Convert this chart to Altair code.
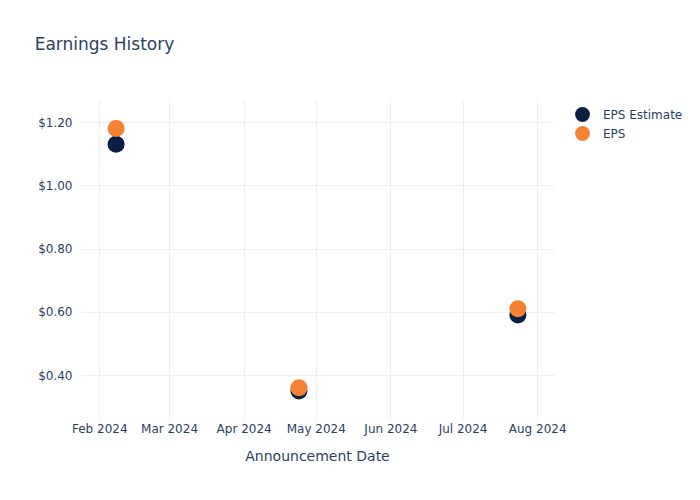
import altair as alt
import pandas as pd

dates = ["2024-02-08", "2024-04-24", "2024-07-24"]
eps_estimate = [1.13, 0.35, 0.59]
eps_actual = [1.18, 0.36, 0.61]
series_names = ["EPS Estimate", "EPS"]
colors = ["#0b1f44", "#f58134"]
tick_months = [2, 3, 4, 5, 6, 7, 8]
y_ticks = [0.4, 0.6, 0.8, 1.0, 1.2]

rows = []
for d, e, a in zip(dates, eps_estimate, eps_actual):
    rows.append({"date": d, "value": e, "series": series_names[0], "order": 0})
for d, e, a in zip(dates, eps_estimate, eps_actual):
    rows.append({"date": d, "value": a, "series": series_names[1], "order": 1})
df = pd.DataFrame(rows)

font = "DejaVu Sans"
txt = "#2a3f5f"
grid = "#ebf0f8"

chart = alt.Chart(df).mark_circle(size=290, opacity=1).encode(
    x=alt.X(
        "date:T",
        scale=alt.Scale(type="utc", domain=[alt.DateTime(year=2024, month=1, date=24, utc=True),
                                            alt.DateTime(year=2024, month=8, date=8, utc=True)]),
        axis=alt.Axis(
            title="Announcement Date",
            values=[alt.DateTime(year=2024, month=m, date=1, utc=True) for m in tick_months],
            labelExpr="utcFormat(datum.value, '%b %Y')",
            labelPadding=3,
            titlePadding=15,
        ),
    ),
    y=alt.Y(
        "value:Q",
        scale=alt.Scale(domain=[0.258, 1.27], nice=False, zero=False),
        axis=alt.Axis(title=None, values=y_ticks, format="$.2f", labelPadding=8),
    ),
    color=alt.Color(
        "series:N",
        scale=alt.Scale(domain=series_names, range=colors),
        legend=alt.Legend(
            title=None,
            orient="none",
            legendX=494,
            legendY=6,
            symbolSize=220,
            symbolType="circle",
            symbolOpacity=1,
            labelFontSize=12,
            labelColor=txt,
            labelFont=font,
            rowPadding=3,
            labelOffset=12,
        ),
    ),
    order=alt.Order("order:Q"),
).properties(
    width=474,
    height=320,
    padding={"left": 80, "top": 100, "right": 146, "bottom": 80},
    autosize=alt.AutoSizeParams(type="none"),
    title=alt.TitleParams(
        "Earnings History",
        anchor="start",
        dx=-3,
        offset=46,
        fontSize=17,
        fontWeight="normal",
        color=txt,
        font=font,
    ),
).configure_axis(
    grid=True,
    gridColor=grid,
    gridWidth=1,
    domain=False,
    ticks=False,
    labelColor=txt,
    labelFont=font,
    labelFontSize=12,
    titleColor=txt,
    titleFont=font,
    titleFontSize=14,
    titleFontWeight="normal",
).configure_view(stroke=None)

chart.save("out.html", embed_options={"renderer": "svg", "actions": False})
